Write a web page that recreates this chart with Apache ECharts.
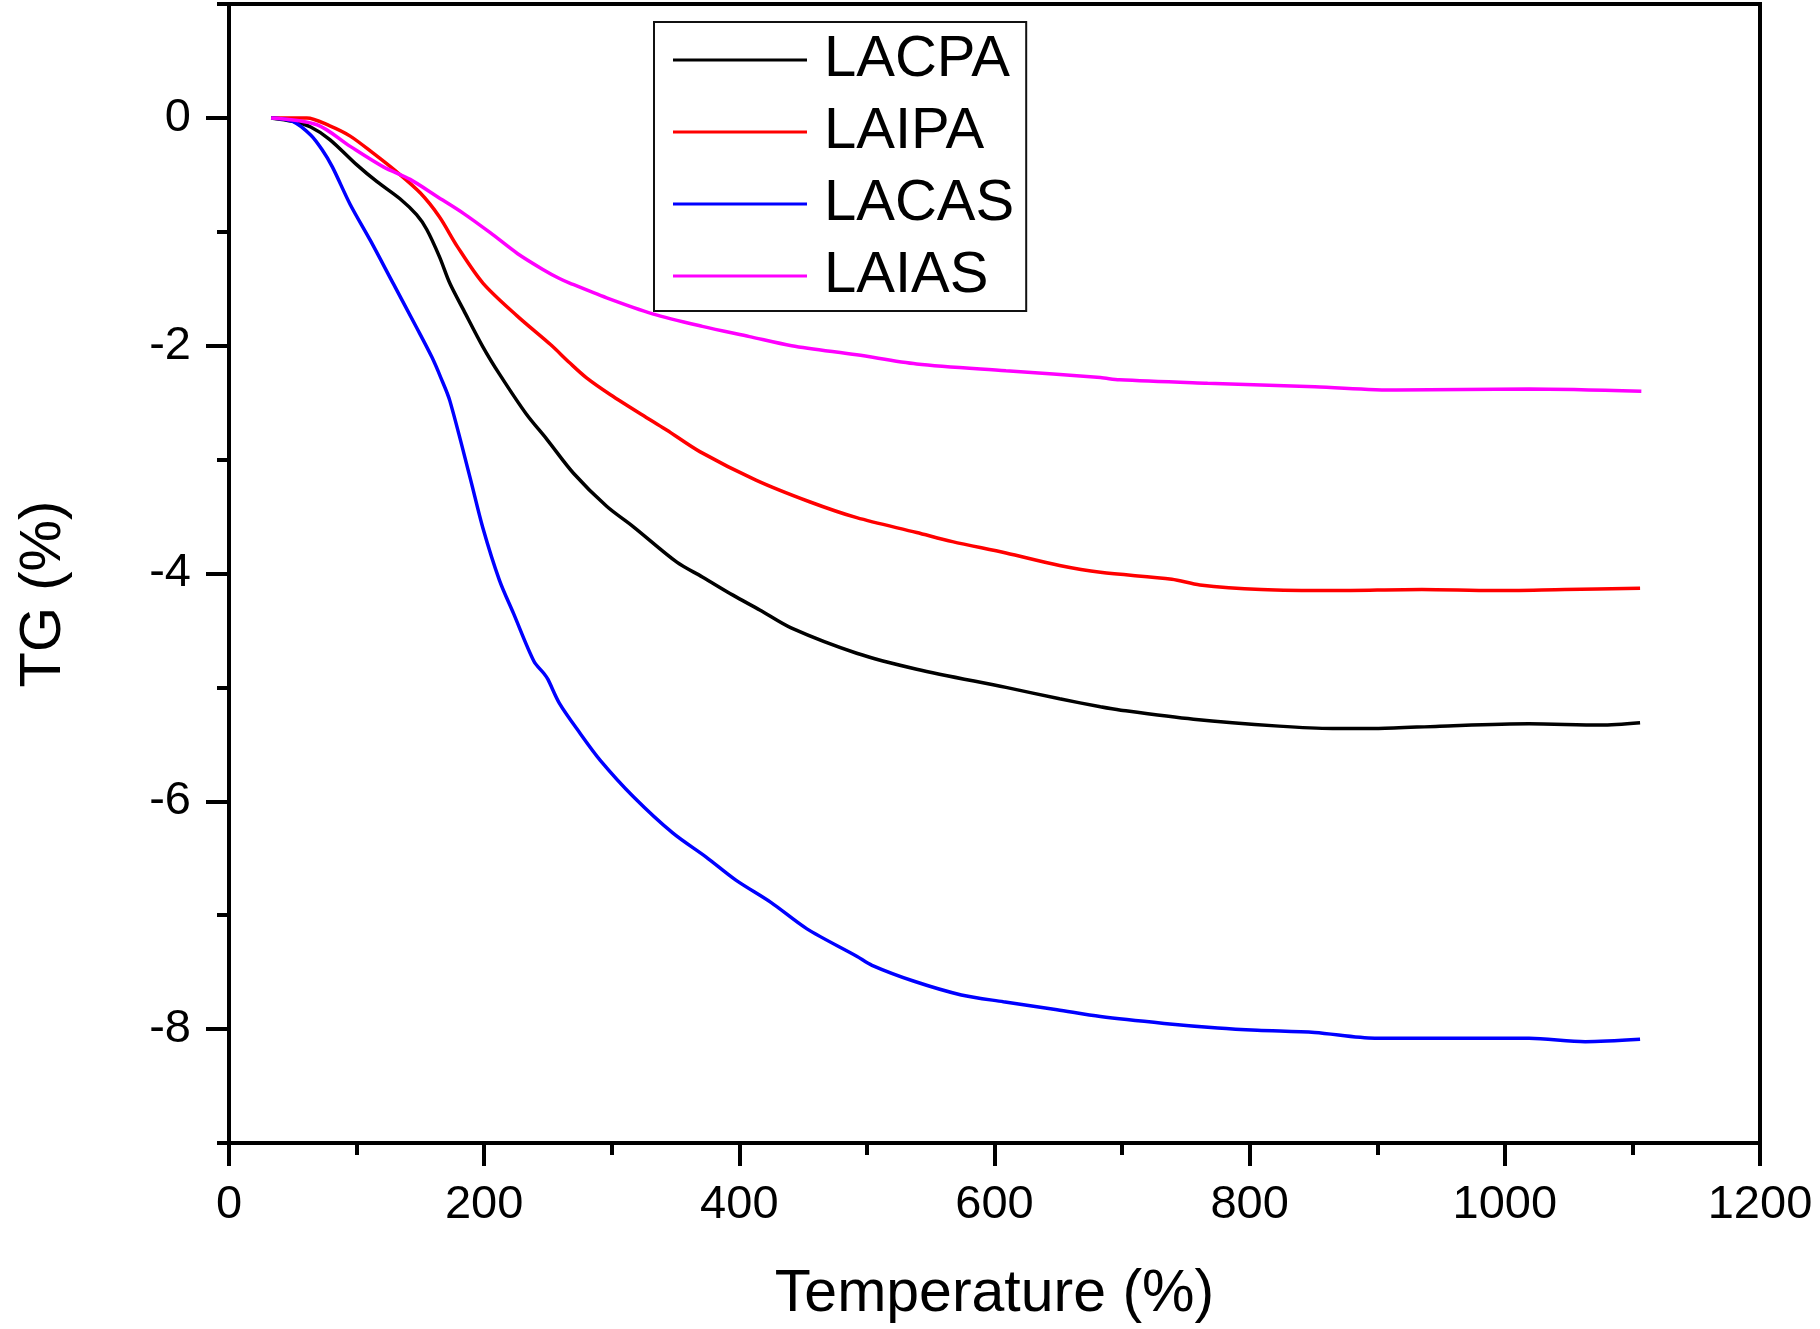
<!DOCTYPE html>
<html><head><meta charset="utf-8">
<script src="https://cdn.jsdelivr.net/npm/echarts@6/dist/echarts.min.js"></script>
<style>html,body{margin:0;padding:0;background:#fff}#c{width:1820px;height:1329px}</style>
</head><body><div id="c"></div>
<script>
// Temperatures and TG values
const lacpaT = [33, 50, 64, 79, 100, 116, 134, 147, 155, 165, 173, 184, 199, 212, 233, 249, 270, 296, 317, 351, 371, 395, 416, 441, 492, 539, 609, 651, 683, 699, 756, 823, 865, 901, 949, 1019, 1075, 1106];
const lacpaV = [0, -0.03, -0.08, -0.19, -0.41, -0.56, -0.71, -0.85, -0.98, -1.22, -1.45, -1.69, -2.01, -2.25, -2.60, -2.82, -3.12, -3.41, -3.59, -3.90, -4.03, -4.19, -4.32, -4.48, -4.70, -4.84, -5.00, -5.10, -5.17, -5.20, -5.28, -5.34, -5.36, -5.36, -5.34, -5.32, -5.33, -5.31];

const laipaT = [33, 61, 79, 95, 113, 131, 150, 165, 179, 199, 226, 252, 267, 280, 299, 330, 343, 369, 413, 455, 492, 539, 567, 609, 651, 683, 739, 761, 809, 865, 935, 991, 1047, 1106];
const laipaV = [0, 0.0, -0.07, -0.16, -0.31, -0.47, -0.66, -0.87, -1.13, -1.45, -1.74, -1.99, -2.15, -2.28, -2.43, -2.65, -2.74, -2.93, -3.18, -3.37, -3.51, -3.64, -3.72, -3.82, -3.93, -3.99, -4.05, -4.10, -4.14, -4.15, -4.14, -4.15, -4.14, -4.13];

const lacasT = [33, 50, 64, 73, 81, 95, 111, 129, 147, 159, 166, 173, 189, 199, 212, 223, 239, 247, 250, 259, 275, 291, 317, 348, 374, 397, 425, 453, 492, 504, 537, 574, 607, 649, 683, 733, 775, 806, 851, 898, 963, 1019, 1063, 1106];
const lacasV = [0, -0.03, -0.15, -0.28, -0.43, -0.76, -1.08, -1.46, -1.84, -2.10, -2.28, -2.48, -3.16, -3.60, -4.06, -4.35, -4.77, -4.88, -4.93, -5.14, -5.40, -5.64, -5.96, -6.28, -6.49, -6.69, -6.89, -7.12, -7.36, -7.44, -7.58, -7.70, -7.76, -7.83, -7.89, -7.95, -7.99, -8.01, -8.03, -8.08, -8.08, -8.08, -8.11, -8.09];

const laiasT = [33, 69, 95, 121, 142, 163, 184, 205, 226, 246, 259, 267, 296, 332, 371, 408, 441, 492, 539, 609, 683, 698, 767, 851, 915, 1019, 1107];
const laiasV = [0, -0.06, -0.25, -0.43, -0.54, -0.69, -0.84, -1.01, -1.19, -1.33, -1.41, -1.45, -1.58, -1.72, -1.83, -1.92, -2.00, -2.08, -2.16, -2.22, -2.28, -2.30, -2.33, -2.36, -2.39, -2.38, -2.40];

const seriesNames = ['LACPA', 'LAIPA', 'LACAS', 'LAIAS'];
const seriesColors = ['#000000', '#ff0000', '#0000ff', '#ff00ff'];
const yMajorTicks = [-8, -6, -4, -2, 0];
const yMinorTicks = [-9, -7, -5, -3, -1, 1];

function pairs(t, v) { return t.map((x, i) => [x, v[i]]); }
const allData = [pairs(lacpaT, lacpaV), pairs(laipaT, laipaV), pairs(lacasT, lacasV), pairs(laiasT, laiasV)];

const FONT = '"Liberation Sans", Arial, Helvetica, sans-serif';
const chart = echarts.init(document.getElementById('c'), null, {renderer: 'canvas'});
chart.setOption({
  animation: false,
  backgroundColor: '#ffffff',
  grid: {left: 229, right: 60, top: 4, bottom: 186, show: true, borderColor: '#000', borderWidth: 4, backgroundColor: 'transparent'},
  legend: {
    orient: 'vertical', left: 654, top: 22,
    padding: [8, 12, 5, 19],
    icon: 'rect',
    itemWidth: 134, itemHeight: 3, itemGap: 12,
    borderColor: '#111', borderWidth: 2,
    textStyle: {fontSize: 58, lineHeight: 60, color: '#000', fontFamily: FONT, padding: [0, 0, 0, 12]},
    data: seriesNames
  },
  xAxis: {
    type: 'value', min: 0, max: 1200, interval: 200,
    axisLine: {show: true, onZero: false, lineStyle: {color: '#000', width: 4}},
    axisTick: {show: true, length: 23, lineStyle: {color: '#000', width: 4}},
    minorTick: {show: true, splitNumber: 2, length: 12, lineStyle: {color: '#000', width: 4}},
    splitLine: {show: false}, minorSplitLine: {show: false},
    axisLabel: {margin: 39, fontSize: 47, color: '#000', fontFamily: FONT, formatter: v => String(v)},
    name: 'Temperature (%)', nameLocation: 'middle', nameGap: 122,
    nameTextStyle: {fontSize: 59, color: '#000', fontFamily: FONT}
  },
  yAxis: [
    {
      type: 'value', min: -9, max: 1,
      axisLine: {show: true, onZero: false, lineStyle: {color: '#000', width: 4}},
      axisTick: {show: true, length: 23, customValues: yMajorTicks, lineStyle: {color: '#000', width: 4}},
      axisLabel: {customValues: yMajorTicks, margin: 38, fontSize: 47, color: '#000', fontFamily: FONT, formatter: v => String(v)},
      splitLine: {show: false}
    },
    {
      type: 'value', min: -9, max: 1, position: 'left', offset: 0,
      axisLine: {show: false, onZero: false},
      axisTick: {show: true, length: 12, customValues: yMinorTicks, lineStyle: {color: '#000', width: 4}},
      axisLabel: {show: false},
      splitLine: {show: false}
    }
  ],
  graphic: [{
    type: 'text', x: 44, y: 594, rotation: Math.PI / 2,
    style: {text: 'TG (%)', fill: '#000', font: '58px "Liberation Sans", Arial, sans-serif', align: 'center', verticalAlign: 'middle'}
  }],
  series: seriesNames.map((n, i) => ({
    name: n, type: 'line', data: allData[i], symbol: 'none', smooth: 0.3,
    yAxisIndex: 0,
    lineStyle: {color: seriesColors[i], width: 3.5},
    itemStyle: {color: seriesColors[i]}
  }))
});
</script>
</body></html>
